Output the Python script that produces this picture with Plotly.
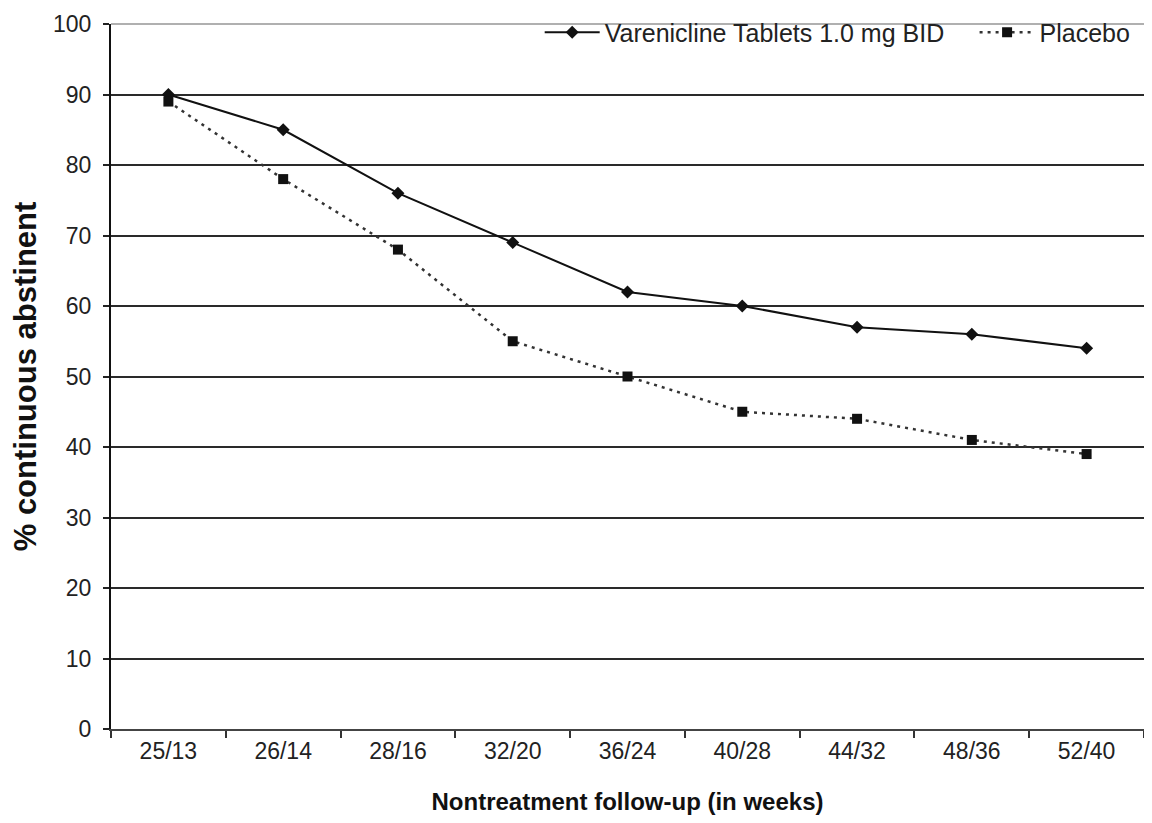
import plotly.graph_objects as go

categories = ["25/13", "26/14", "28/16", "32/20", "36/24", "40/28", "44/32", "48/36", "52/40"]
varenicline = [90, 85, 76, 69, 62, 60, 57, 56, 54]
placebo = [89, 78, 68, 55, 50, 45, 44, 41, 39]
y_ticks = [0, 10, 20, 30, 40, 50, 60, 70, 80, 90, 100]

FONT = "Liberation Sans, Arial, sans-serif"

fig = go.Figure()
fig.add_trace(go.Scatter(
    x=categories, y=varenicline, name="Varenicline Tablets 1.0 mg BID",
    mode="lines+markers", legend="legend",
    line=dict(color="#111111", width=2),
    marker=dict(symbol="diamond", size=10, color="#111111"),
))
fig.add_trace(go.Scatter(
    x=categories, y=placebo, name="Placebo",
    mode="lines+markers", legend="legend2",
    line=dict(color="#333333", width=2.5, dash="3px,5px"),
    marker=dict(symbol="square", size=10, color="#111111"),
))

legend_style = dict(
    orientation="h", xanchor="left", y=0.988, yanchor="middle",
    font=dict(family=FONT, size=25, color="#222222"),
    bgcolor="rgba(0,0,0,0)", itemwidth=55,
)

fig.update_layout(
    width=1136, height=807,
    margin=dict(l=103, r=0, t=16, b=86),
    paper_bgcolor="white", plot_bgcolor="white",
    font=dict(family=FONT, color="#222222", size=23),
    showlegend=True,
    legend=dict(x=0.415, **legend_style),
    legend2=dict(x=0.836, **legend_style),
    xaxis=dict(
        type="category", range=[-0.5, 8.5], automargin=False,
        tickson="boundaries", ticks="outside", ticklen=7, tickwidth=1.5, tickcolor="#333333",
        showgrid=False, showline=True, linecolor="#444444", linewidth=2,
        tickfont=dict(family=FONT, size=23, color="#222222"),
        title=dict(text="<b>Nontreatment follow-up (in weeks)</b>", standoff=44,
                   font=dict(family=FONT, size=24, color="#111111")),
    ),
    yaxis=dict(
        range=[0, 100], tickvals=y_ticks, automargin=False,
        ticks="outside", ticklen=6, tickwidth=1.5, tickcolor="#222222",
        ticklabelstandoff=7,
        showgrid=True, gridcolor="#2a2a2a", gridwidth=1.5,
        showline=True, linecolor="#111111", linewidth=2,
        zeroline=False,
        tickfont=dict(family=FONT, size=23, color="#222222"),
        title=dict(text="<b>% continuous abstinent</b>", standoff=11,
                   font=dict(family=FONT, size=31, color="#111111")),
    ),
)

fig.add_shape(type="line", xref="paper", yref="paper", x0=0, x1=1, y0=1, y1=1,
              line=dict(color="#b0b0b0", width=2), layer="above")

fig.write_html("out.html")
